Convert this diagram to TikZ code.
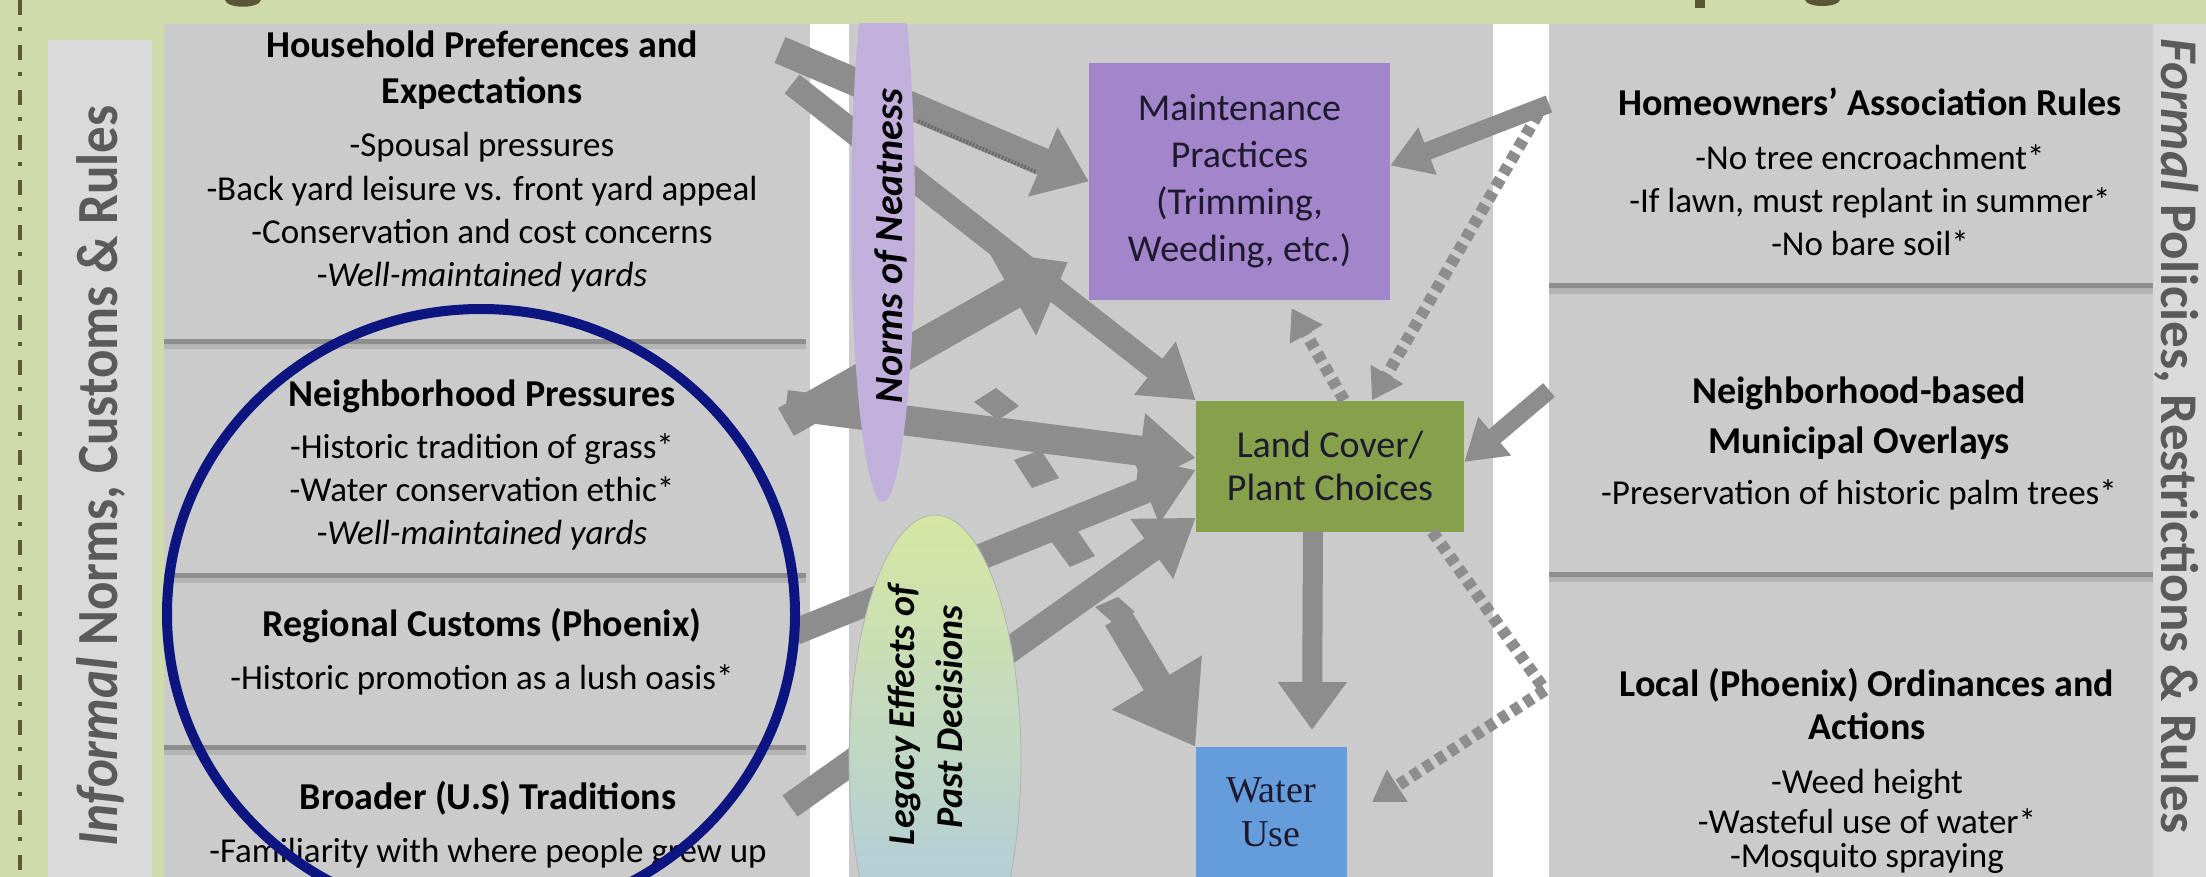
\documentclass[tikz,border=0pt]{standalone}
\usepackage{fontspec}
\usepackage{graphicx}
\setmainfont{Carlito}
\newfontfamily\waterfont{Liberation Serif}
\usetikzlibrary{arrows.meta}
\definecolor{bggreen}{HTML}{CFDCAA}
\definecolor{panelgray}{HTML}{CBCBCB}
\definecolor{bandgray}{HTML}{DADADA}
\definecolor{labelgray}{HTML}{5A5A5A}
\definecolor{titleolive}{HTML}{5B5536}
\definecolor{dashol}{HTML}{5E5838}
\definecolor{divgray}{HTML}{8E8E8E}
\definecolor{divshadow}{HTML}{B4B4B4}
\definecolor{arrowgray}{HTML}{8D8D8D}
\definecolor{hatchgray}{HTML}{6A6A6A}
\definecolor{lavender}{HTML}{C2B0DC}
\definecolor{maintpurple}{HTML}{A385CC}
\definecolor{lcgreen}{HTML}{86A04C}
\definecolor{waterblue}{HTML}{649CDC}
\definecolor{navy}{HTML}{0C1580}
\definecolor{legtop}{HTML}{D6E7A2}
\definecolor{legmid}{HTML}{C0DABF}
\definecolor{legbot}{HTML}{A8C6E8}
\definecolor{boxtext}{HTML}{1E1A2E}
\tikzset{
 hdtext/.style={font=\fontsize{38}{44}\selectfont\bfseries, inner sep=0pt, anchor=base},
 bdtext/.style={font=\fontsize{35}{42}\selectfont, inner sep=0pt, anchor=base},
 divider/.style={line width=5pt, draw=divgray},
 dividershadow/.style={line width=6pt, draw=divshadow},
 blk/.style n args={3}{draw=arrowgray, line width=#1, -{Triangle[width=#2,length=#3]}},
 barb/.style={fill=arrowgray},
 dsh/.style={draw=arrowgray, line width=12pt, dash pattern=on 9pt off 6pt, -{Triangle[width=36pt,length=30pt]}},
 dshplain/.style={draw=arrowgray, line width=12pt, dash pattern=on 9pt off 6pt},
 boxnode/.style={rectangle, inner sep=0pt, align=center, text=boxtext},
 sidelabel/.style={font=\fontsize{53}{60}\selectfont\bfseries, text=labelgray, inner sep=0pt, anchor=base},
 ovaltext/.style={font=\fontsize{38}{40}\selectfont\bfseries\itshape, inner sep=0pt, anchor=base, rotate=90},
}
\begin{document}
\begin{tikzpicture}[x=1pt,y=-1pt]
\useasboundingbox (0,0) rectangle (2206,877);
\clip (0,0) rectangle (2206,877);
% background
\fill[bggreen] (0,0) rectangle (2206,877);
% cropped title descenders
\fill[titleolive] (225,0) .. controls (227,9) and (259,9) .. (261,0) -- cycle;
\fill[titleolive] (1695,0) rectangle (1705,8);
\fill[titleolive] (1805,0) .. controls (1807,8) and (1838,8) .. (1840,0) -- cycle;
% dash-dot rule
\draw[dashol, line width=4pt, dash pattern=on 15pt off 12pt on 4pt off 14pt] (20,0) -- (20,877);
% side bands
\fill[bandgray] (48,40) rectangle (152,877);
\fill[bandgray] (2153,24) rectangle (2206,877);
% panels
\fill[panelgray] (164,24) rectangle (810,877);
\fill[white] (810,24) rectangle (849,877);
\fill[panelgray] (849,24) rectangle (1493,877);
\fill[white] (1493,24) rectangle (1549,877);
\fill[panelgray] (1549,24) rectangle (2153,877);
% dividers
\foreach \yy in {341,575,747} {
  \draw[dividershadow] (164,\yy+5) -- (806,\yy+5);
  \draw[divider] (164,\yy) -- (806,\yy);
}
\foreach \yy in {286,574} {
  \draw[dividershadow] (1549,\yy+5) -- (2153,\yy+5);
  \draw[divider] (1549,\yy) -- (2153,\yy);
}
% side labels
\node[sidelabel, rotate=90] (informal) at (117,476) {\scalebox{1}[1.1]{{\itshape Informal} Norms, Customs \& Rules}};
\node[sidelabel, rotate=-90] (formal) at (2161,436) {{\itshape Formal} Policies, Restrictions \& Rules};
% left panel text
\node[hdtext] (hp1) at (482,58) {Household Preferences and};
\node[hdtext] (hp2) at (482,104) {Expectations};
\node[bdtext] (hp3) at (482,157) {-Spousal pressures};
\node[bdtext] (hp4) at (482,201) {-Back yard leisure vs. front yard appeal};
\node[bdtext] (hp5) at (482,244) {-Conservation and cost concerns};
\node[bdtext] (hp6) at (482,287) {-\itshape Well-maintained yards};
\node[hdtext] (np1) at (482,406) {Neighborhood Pressures};
\node[bdtext] (np2) at (482,458) {-Historic tradition of grass*};
\node[bdtext] (np3) at (482,501) {-Water conservation ethic*};
\node[bdtext] (np4) at (482,544) {-\itshape Well-maintained yards};
\node[hdtext] (rc1) at (482,636) {Regional Customs (Phoenix)};
\node[bdtext] (rc2) at (482,689) {-Historic promotion as a lush oasis*};
\node[hdtext] (bt1) at (488,809) {Broader (U.S) Traditions};
\node[bdtext] (bt2) at (488,862) {-Familiarity with where people grew up};
% right panel text
\node[hdtext] (ho1) at (1870,116) {Homeowners’ Association Rules};
\node[bdtext] (ho2) at (1870,170) {-No tree encroachment*};
\node[bdtext] (ho3) at (1870,213) {-If lawn, must replant in summer*};
\node[bdtext] (ho4) at (1870,256) {-No bare soil*};
\node[hdtext] (mo1) at (1859,403) {Neighborhood-based};
\node[hdtext] (mo2) at (1859,453) {Municipal Overlays};
\node[bdtext] (mo3) at (1859,504) {-Preservation of historic palm trees*};
\node[hdtext] (lo1) at (1867,696) {Local (Phoenix) Ordinances and};
\node[hdtext] (lo2) at (1867,739) {Actions};
\node[bdtext] (lo3) at (1867,793) {-Weed height};
\node[bdtext] (lo4) at (1867,833) {-Wasteful use of water*};
\node[bdtext] (lo5) at (1867,867) {-Mosquito spraying};
% central boxes
\node[boxnode, fill=maintpurple, minimum width=301pt, minimum height=237pt, font=\fontsize{38}{47}\selectfont] (maint) at (1239.5,181.5) {Maintenance\\Practices\\(Trimming,\\Weeding, etc.)};
\node[boxnode, fill=lcgreen, minimum width=268pt, minimum height=131pt, font=\fontsize{38}{43}\selectfont] (lc) at (1330,466) {Land Cover/\\Plant Choices};
\node[boxnode, fill=waterblue, minimum width=151pt, minimum height=130pt, font=\waterfont\fontsize{38}{44}\selectfont] (water) at (1271,812) {Water\\Use};
% arrow end points
\coordinate (hh1) at (780,50);
\coordinate (hh2) at (792,84);
\coordinate (nb1) at (786,422);
\coordinate (nb2) at (786,405);
\coordinate (rg) at (795,632);
\coordinate (br) at (790,806);
\coordinate (m3) at (1068,262);
\coordinate (w7) at (1118,618);
\coordinate (c1t) at (1312,730);
\coordinate (hoa1) at (1549,104);
\coordinate (hoa2) at (1538,114);
\coordinate (ovl) at (1549,390);
\coordinate (loc) at (1545,690);
\coordinate (wtip) at (1372,802);
% solid arrows
\draw[blk={24pt}{64pt}{52pt}] (hh2) -- (lc.north west);
\draw[blk={28pt}{72pt}{50pt}] (hh1) -- (maint.west);
\draw[hatchgray, line width=4pt, dash pattern=on 2pt off 1.5pt] (918,121) -- (1036,172);
\draw[blk={32pt}{92pt}{64pt}] (nb1) -- (m3);
\draw[blk={30pt}{72pt}{56pt}] (nb2) -- ([yshift=8pt]lc.west);
\draw[blk={26pt}{68pt}{54pt}] (rg) -- ([yshift=-4pt]lc.west);
\draw[blk={26pt}{70pt}{54pt}] (br) -- ([yshift=14pt]lc.south west);
\draw[blk={30pt}{100pt}{75pt}] (w7) -- (water.north west);
\draw[blk={20pt}{66pt}{48pt}] ([xshift=-17pt]lc.south) -- (c1t);
\draw[blk={18pt}{48pt}{40pt}] (hoa1) -- ([yshift=16pt]maint.east);
\draw[blk={18pt}{48pt}{40pt}] (ovl) -- ([yshift=4pt]lc.east);
% barbs on the shafts
\fill[barb] (974,402) -- (996,388) -- (1019,406) -- (998,420) -- cycle;
\fill[barb] (1014,460) -- (1041,450) -- (1059,478) -- (1032,488) -- cycle;
\fill[barb] (1050,540) -- (1075,527) -- (1095,556) -- (1070,567) -- cycle;
\fill[barb] (1095,607) -- (1118,597) -- (1135,612) -- (1112,622) -- cycle;
% dashed arrows
\draw[dsh] (hoa2) -- ([xshift=42pt]lc.north);
\draw[dsh] ([xshift=14pt]lc.north) -- ([xshift=52pt,yshift=-8pt]maint.south);
\draw[dshplain] ([xshift=-32pt]lc.south east) -- (loc);
\draw[dsh] (loc) -- (wtip);
% Norms of Neatness oval
\begin{scope}
\clip (849,24) rectangle (1493,877);
\fill[lavender] (883,214) ellipse [x radius=32, y radius=288];
\end{scope}
\node[ovaltext, font=\fontsize{40}{42}\selectfont\bfseries\itshape] (norms) at (902,246) {Norms of Neatness};
% Legacy oval
\shade[top color=legtop, middle color=legmid, bottom color=legbot, draw=gray!60, line width=0.8pt] (935,760) ellipse [x radius=86, y radius=245];
\node[ovaltext] (leg1) at (914,715) {Legacy Effects of};
\node[ovaltext] (leg2) at (962,717) {Past Decisions};
% navy highlight ellipse
\draw[navy, line width=10pt] (481,614) ellipse [x radius=314, y radius=305];
\end{tikzpicture}
\end{document}
